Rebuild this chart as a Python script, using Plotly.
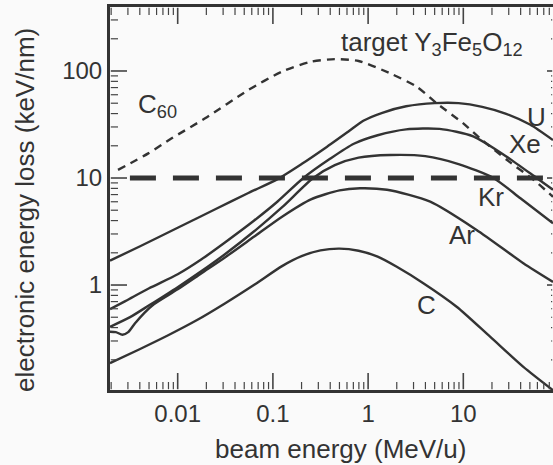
import math
import plotly.graph_objects as go

# ---- data (beam energy in MeV/u, electronic energy loss in keV/nm) ----
U_E = [0.001945, 0.00398, 0.01, 0.0251, 0.0552, 0.112, 0.2, 0.355, 0.631, 0.891,
       1.41, 2.51, 5.01, 8.91, 15.8, 28.2, 50.1, 87.5]
U_S = [1.69, 2.29, 3.43, 5.13, 7.24, 9.77, 13.5, 19.1, 27.5, 34.3,
       40.7, 46.8, 50.1, 50.1, 46.2, 39.8, 31.6, 22.6]

Xe_E = [0.001945, 0.00282, 0.00501, 0.01, 0.0178, 0.0316, 0.0631, 0.112, 0.209,
        0.398, 0.708, 1.26, 2.51, 5.62, 12.7, 28.6, 58.9, 87.5]
Xe_S = [0.596, 0.708, 0.933, 1.26, 1.74, 2.51, 3.98, 6.03, 10.0,
        15.1, 20.9, 25.1, 28.5, 28.8, 24.5, 15.8, 10.0, 7.76]

Kr_E = [0.001945, 0.00316, 0.00501, 0.01, 0.0178, 0.0316, 0.0631, 0.126,
        0.265, 0.447, 0.794, 1.70, 3.98, 8.91, 20.7, 39.8, 87.5]
Kr_S = [0.407, 0.501, 0.646, 0.955, 1.35, 1.95, 3.16, 5.37,
        10.0, 13.2, 15.5, 16.4, 16.0, 13.5, 10.0, 6.46, 3.78]

Ar_E = [0.001945, 0.00224, 0.00263, 0.00302, 0.00355, 0.00447, 0.00562, 0.01, 0.0178,
        0.0316, 0.0631, 0.126, 0.251, 0.501, 0.822, 1.58, 4.49, 13.8, 42.7, 87.5]
Ar_S = [0.366, 0.363, 0.343, 0.363, 0.437, 0.55, 0.661, 0.912, 1.29,
        1.82, 2.82, 4.37, 6.31, 7.67, 8.02, 7.76, 6.01, 3.27, 1.60, 1.07]

C_E = [0.001945, 0.00398, 0.00794, 0.0158, 0.0316, 0.0631, 0.126, 0.2, 0.316,
       0.501, 0.794, 1.26, 2.0, 3.80, 8.51, 19.1, 42.7, 87.5]
C_S = [0.186, 0.251, 0.339, 0.468, 0.676, 1.0, 1.51, 1.86, 2.11,
       2.19, 2.09, 1.84, 1.48, 1.04, 0.627, 0.329, 0.172, 0.104]

C60_E = [0.00236, 0.00491, 0.00865, 0.0194, 0.0552, 0.124, 0.251, 0.447, 0.794,
         1.70, 3.24, 5.25, 10.0, 15.0, 28.6, 54.3, 87.5]
C60_S = [11.9, 17.0, 23.5, 36.1, 66.4, 98.4, 122, 129, 124,
         95.1, 71.3, 49.9, 32.4, 23.5, 14.8, 9.66, 6.68]

threshold_E = [0.00315, 87.5]
threshold_S = [10, 10]

label_text = ["U", "Xe", "Kr", "Ar", "C", "C<sub>60</sub>", "target Y<sub>3</sub>Fe<sub>5</sub>O<sub>12</sub>"]
label_E = [59.4, 44.5, 19.5, 9.7, 4.06, 0.00614, 4.69]
label_S = [37.2, 20.8, 6.64, 2.93, 0.65, 47.1, 182]

x_tick_vals = [0.01, 0.1, 1, 10]
x_tick_text = ["0.01", "0.1", "1", "10"]
y_tick_vals = [1, 10, 100]
y_tick_text = ["1", "10", "100"]
x_minor_vals = [m * d for d in [0.001, 0.01, 0.1, 1, 10] for m in range(2, 10)]
y_minor_vals = [m * d for d in [0.1, 1, 10, 100] for m in range(2, 10)]

X_RANGE = [-2.711, 1.942]
Y_RANGE = [-0.981, 2.598]

W, H = 553, 465
M_L, M_R, M_T, M_B = 110, 0, 7, 75
PLOT_W = W - M_L - M_R
PLOT_H = H - M_T - M_B

INK = "#333333"
TICK = "#444444"
FONT = "Liberation Sans, Arial, sans-serif"

fig = go.Figure()
for xs, ys in [(U_E, U_S), (Xe_E, Xe_S), (Kr_E, Kr_S), (Ar_E, Ar_S), (C_E, C_S)]:
    fig.add_trace(go.Scatter(x=xs, y=ys, mode="lines",
                             line=dict(color=INK, width=2.4, shape="spline", smoothing=0.7),
                             hoverinfo="skip"))
fig.add_trace(go.Scatter(x=C60_E, y=C60_S, mode="lines",
                         line=dict(color=INK, width=2.4, dash="8px,6px", shape="spline", smoothing=0.7),
                         hoverinfo="skip"))
fig.add_trace(go.Scatter(x=threshold_E, y=threshold_S, mode="lines",
                         line=dict(color=INK, width=5, dash="26px,17px"),
                         hoverinfo="skip"))


# ---- inward tick marks, placed through the axis ranges ----
def x_at(frac):
    return 10 ** (X_RANGE[0] + frac * (X_RANGE[1] - X_RANGE[0]))


def y_at(frac):
    return 10 ** (Y_RANGE[0] + frac * (Y_RANGE[1] - Y_RANGE[0]))


def in_x(v):
    return X_RANGE[0] <= math.log10(v) <= X_RANGE[1]


def in_y(v):
    return Y_RANGE[0] <= math.log10(v) <= Y_RANGE[1]


EPS_X = 0.8 / PLOT_W   # start each tick just inside the frame line
EPS_Y = 0.8 / PLOT_H
right_frac = 1 + 11 / PLOT_W   # frame's right side lies just beyond the picture
for x_vals, y_vals, len_b, len_l, len_r, width in [
        (x_tick_vals, y_tick_vals, 17, 17, 17, 1.6),
        (x_minor_vals, y_minor_vals, 8, 8, 13, 1.2)]:
    tx, ty = [], []
    for v in x_vals:
        if in_x(v):
            f = len_b / PLOT_H
            tx += [v, v, None, v, v, None]
            ty += [y_at(EPS_Y), y_at(f), None, y_at(1 - EPS_Y), y_at(1 - f), None]
    for v in y_vals:
        if in_y(v):
            f = len_l / PLOT_W
            tx += [x_at(EPS_X), x_at(f), None]
            ty += [v, v, None]
            inner = right_frac - len_r / PLOT_W
            if inner < 1:
                tx += [x_at(inner), x_at(1 - EPS_X), None]
                ty += [v, v, None]
    fig.add_trace(go.Scatter(x=tx, y=ty, mode="lines", connectgaps=False,
                             line=dict(color=TICK, width=width), hoverinfo="skip"))

for t, e, s in zip(label_text, label_E, label_S):
    fig.add_annotation(x=math.log10(e), y=math.log10(s), xref="x", yref="y", text=t,
                       showarrow=False, xanchor="center", yanchor="middle",
                       font=dict(size=26, color=INK, family=FONT))

fig.add_annotation(x=-0.192, y=0.47, xref="paper", yref="paper",
                   text="electronic energy loss (keV/nm)", textangle=-90, showarrow=False,
                   xanchor="center", yanchor="middle", font=dict(size=26, color=INK, family=FONT))
fig.add_annotation(x=0.5214, y=-0.154, xref="paper", yref="paper",
                   text="beam energy (MeV/u)", showarrow=False,
                   xanchor="center", yanchor="middle", font=dict(size=26, color=INK, family=FONT))

axis_common = dict(type="log", showline=True, linecolor=INK, linewidth=3,
                   ticks="", showgrid=False, zeroline=False,
                   tickfont=dict(size=24, color=INK, family=FONT), tickmode="array")

fig.update_layout(
    width=W, height=H,
    margin=dict(l=M_L, r=M_R, t=M_T, b=M_B),
    paper_bgcolor="#fafafa", plot_bgcolor="#fafafa",
    showlegend=False,
    xaxis=dict(**axis_common, range=X_RANGE, mirror=True,
               tickvals=x_tick_vals, ticktext=x_tick_text),
    yaxis=dict(**axis_common, range=Y_RANGE, mirror=False,
               tickvals=y_tick_vals, ticktext=y_tick_text),
)

fig.write_html("out.html")
